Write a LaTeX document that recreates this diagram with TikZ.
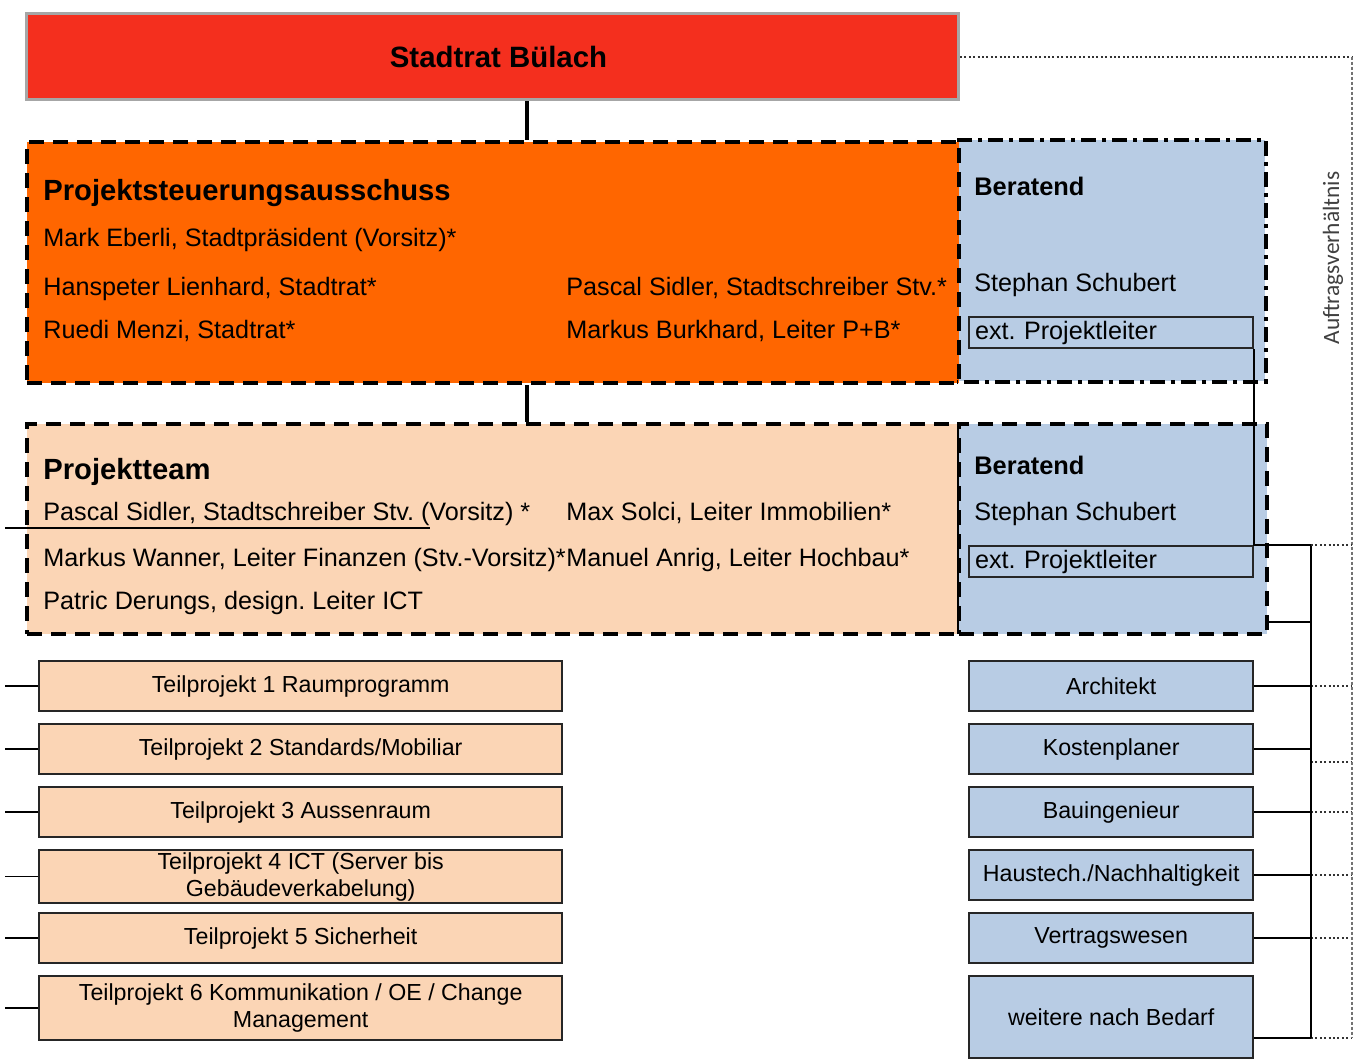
\documentclass[tikz,border=0pt]{standalone}
\usepackage{fontspec}
\setmainfont{Liberation Sans}
\newfontfamily\calibrifont{Carlito}
\usepackage{tikz}
\usetikzlibrary{positioning}
\frenchspacing

\definecolor{ratred}{RGB}{244,47,30}
\definecolor{psaorange}{RGB}{255,102,0}
\definecolor{teampeach}{RGB}{251,213,181}
\definecolor{berblue}{RGB}{184,204,228}

\tikzset{
  grp/.style={draw=black, line width=2pt, dash pattern=on 7.5pt off 4.5pt, inner sep=0pt, anchor=north west},
  grpdot/.style={line width=2pt, dash pattern=on 7.5pt off 3pt on 2pt off 3pt},
  tpbox/.style={draw=black!85, line width=1.2pt, fill=teampeach, anchor=north west, minimum width=261.5pt, minimum height=25pt, inner sep=1pt, align=center, font=\fontsize{11.6}{13.5}\selectfont},
  bebox/.style={tpbox, fill=berblue, minimum width=142pt},
  extbox/.style={draw=black!85, line width=1pt, anchor=north west, minimum width=142pt, minimum height=15.5pt, text width=136pt, inner xsep=3pt, inner ysep=1pt, align=left, font=\fontsize{12.6}{14}\selectfont},
  txt/.style={anchor=base west, inner sep=0pt, font=\fontsize{12.6}{14}\selectfont},
  head/.style={txt, font=\fontsize{14.6}{17}\selectfont\bfseries},
  berhead/.style={txt, font=\fontsize{12.7}{15}\selectfont\bfseries},
  conn/.style={line width=0.9pt},
  auftrag/.style={line width=1pt, dash pattern=on 1pt off 1.2pt, black!80},
  auftragv/.style={line width=0.6pt, dash pattern=on 1.5pt off 1pt, black!55},
}

\begin{document}
\begin{tikzpicture}[x=0.5pt, y=-0.5pt]
    \useasboundingbox (0,0) rectangle (1355,1060);

    % Stadtrat
    \node[draw=black!35, line width=1.5pt, fill=ratred, anchor=north west, minimum width=466pt, minimum height=43pt,
          font=\fontsize{14.7}{17}\selectfont\bfseries, text depth=0pt] (stadtrat) at (25,12) {\hspace{6pt}Stadtrat Bülach};

    % Projektsteuerungsausschuss
    \node[fill=berblue, anchor=north west, inner sep=0pt, minimum width=154pt, minimum height=120.5pt] (ber1) at (957,140) {};
    \node[grp, fill=psaorange, minimum width=466pt, minimum height=120.5pt] (psa) at (25,140) {};
    \draw[grpdot] (ber1.north west) -- (ber1.north east) -- (ber1.south east) -- (ber1.south west);

    \node[head] (psatitle) at (43,200) {Projektsteuerungsausschuss};
    \node[txt] (eberli) at (43,246) {Mark Eberli, Stadtpräsident (Vorsitz)*};
    \node[txt] (lienhard) at (43,295) {Hanspeter Lienhard, Stadtrat*};
    \node[txt] (menzi) at (43,338) {Ruedi Menzi, Stadtrat*};
    \node[txt] (sidler1) at (566,295) {Pascal Sidler, Stadtschreiber Stv.*};
    \node[txt] (burkhard) at (566,338) {Markus Burkhard, Leiter P+B*};
    \node[berhead] (berhead1) at (974,195) {Beratend};
    \node[txt] (schubert1) at (974,291) {Stephan Schubert};
    \node[extbox] (ext1) at (968,316) {ext. Projektleiter};

    % Projektteam
    \node[grp, fill=teampeach, minimum width=466pt, minimum height=105pt] (team) at (25,422) {};
    \node[grp, fill=berblue, minimum width=154pt, minimum height=105pt] (ber2) at (957,422) {};

    \node[head] (teamtitle) at (43,479) {Projektteam};
    \node[txt] (sidler2) at (43,520) {Pascal Sidler, Stadtschreiber Stv. (Vorsitz) *};
    \node[txt] (wanner) at (43,566) {Markus Wanner, Leiter Finanzen (Stv.-Vorsitz)*};
    \node[txt] (derungs) at (43,609) {Patric Derungs, design. Leiter ICT};
    \node[txt] (solci) at (566,520) {Max Solci, Leiter Immobilien*};
    \node[txt] (anrig) at (566,566) {Manuel Anrig, Leiter Hochbau*};
    \node[berhead] (berhead2) at (974,474) {Beratend};
    \node[txt] (schubert2) at (974,520) {Stephan Schubert};
    \node[extbox] (ext2) at (968,545) {ext. Projektleiter};

    % Teilprojekte und Beratende
    \foreach \i/\h/\t in {1/25/{Teilprojekt 1 Raumprogramm}, 2/25/{Teilprojekt 2 Standards/Mobiliar},
                          3/25/{Teilprojekt 3 Aussenraum}, 4/25/{Teilprojekt 4 ICT (Server bis\\Gebäudeverkabelung)},
                          5/25/{Teilprojekt 5 Sicherheit}, 6/32/{Teilprojekt 6 Kommunikation / OE / Change\\Management}}{
        \node[tpbox, minimum height=\h pt] (tp\i) at (38,597+63*\i) {\t};
    };
    \foreach \i/\h/\t in {1/25/Architekt, 2/25/Kostenplaner, 3/25/Bauingenieur,
                          4/25/{Haustech./Nachhaltigkeit}, 5/25/Vertragswesen, 6/41/{weitere nach Bedarf}}{
        \node[bebox, minimum height=\h pt] (be\i) at (968,597+63*\i) {\t};
    };

    % Linien
    \coordinate (mid) at (527,0);
    \coordinate (lbus) at (5,0);
    \coordinate (rbus) at (1311,0);
    \coordinate (rdot) at (1352,0);
    \draw[line width=2pt] (stadtrat.south -| mid) -- (psa.north -| mid);
    \draw[line width=2pt] (psa.south -| mid) -- (team.north -| mid);

    \coordinate (pl) at (430,528);
    \draw[conn] (pl -| lbus) -- (pl);
    \foreach \i in {1,...,6}{
        \draw[conn] (tp\i.west) -- (tp\i.west -| lbus);
    };

    \draw[conn] (ext1.south east) -- (ext2.north east) -- (ext2.north east -| rbus);
    \coordinate (b2) at ([yshift=7pt]ber2.south east);
    \draw[conn] (b2) -- (b2 -| rbus);
    \foreach \i/\s/\d in {1/0pt/0pt, 2/0pt/-6.5pt, 3/0pt/0pt, 4/0pt/0pt, 5/0pt/0pt, 6/-10.5pt/-10.5pt}{
        \coordinate (r\i) at ([yshift=\s]be\i.east);
        \coordinate (d\i) at ([yshift=\d]be\i.east);
        \draw[conn] (r\i) -- (r\i -| rbus);
        \draw[auftrag] (d\i -| rbus) -- (d\i -| rdot);
    };
    \draw[conn] (ext2.north east -| rbus) -- (r6 -| rbus);

    % Auftragsverhaeltnis
    \draw[auftrag] (stadtrat.east) -- (stadtrat.east -| rdot);
    \draw[auftragv] (stadtrat.east -| rdot) -- (r6 -| rdot);
    \draw[auftrag] (ext2.north east -| rbus) -- (ext2.north east -| rdot);
    \node[rotate=90, font=\calibrifont\fontsize{11.7}{13}\selectfont, text=black!75] (auftr) at (1333,258) {Auftragsverhältnis};
\end{tikzpicture}
\end{document}
